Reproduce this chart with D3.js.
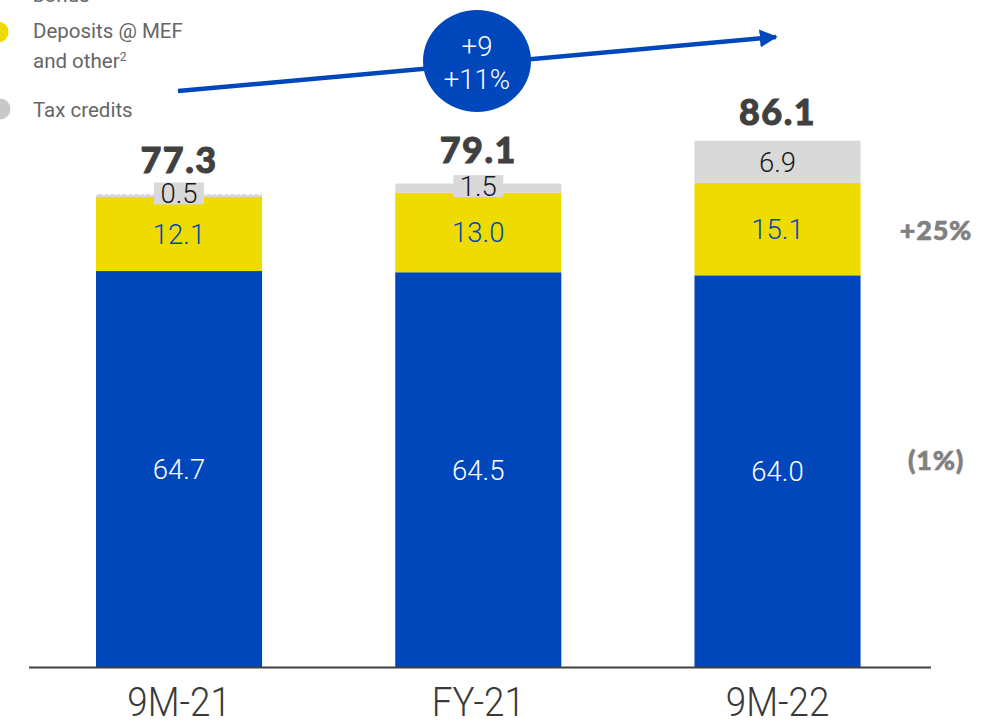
<!DOCTYPE html>
<html>
<head>
<meta charset="utf-8">
<script src="https://cdn.jsdelivr.net/npm/d3@7"></script>
<style>
  html, body { margin: 0; padding: 0; background: #ffffff; }
  svg { display: block; }
</style>
</head>
<body>
<svg id="chart" width="999" height="721"></svg>
<script>
// ---- Data ----
const categories = ["9M-21", "FY-21", "9M-22"];
const bondsValues = [64.7, 64.5, 64.0];
const depositsValues = [12.1, 13.0, 15.1];
const taxCreditValues = [0.5, 1.5, 6.9];
const totalLabels = ["77.3", "79.1", "86.1"];
const seriesNames = ["bonds", "Deposits @ MEF", "Tax credits"];
const changeLabels = ["+25%", "(1%)"];
const growthLabels = ["+9", "+11%"];

// ---- Setup ----
const svg = d3.select("#chart");
const font = "Lato, 'Open Sans', sans-serif";
const lightFont = "Roboto, Lato, sans-serif";
const colBlue = "#0047BB", colYellow = "#EEDC00", colGray = "#D9D9D9";

const x = d3.scaleBand().domain(categories)
  .range([29.4, 927.15]).paddingInner(0.445).paddingOuter(0.2225);
const y = d3.scaleLinear().domain([0, 100]).range([667, 55]);

const rows = categories.map((c, i) => ({
  cat: c, bonds: bondsValues[i], deposits: depositsValues[i], tax: taxCreditValues[i], total: totalLabels[i]
}));
const stack = d3.stack().keys(["bonds", "deposits", "tax"])(rows);
const colors = { bonds: colBlue, deposits: colYellow, tax: colGray };

// bars
const g = svg.append("g");
stack.forEach(layer => {
  g.selectAll(null).data(layer).enter().append("rect")
    .attr("x", d => x(d.data.cat))
    .attr("y", d => y(d[1]))
    .attr("width", x.bandwidth())
    .attr("height", d => y(d[0]) - y(d[1]))
    .attr("fill", colors[layer.key]);
});
// dashed white top edge on tiny first tax segment
g.append("line")
  .attr("x1", x(categories[0])).attr("x2", x(categories[0]) + x.bandwidth())
  .attr("y1", y(bondsValues[0] + depositsValues[0] + taxCreditValues[0]) + 0.5)
  .attr("y2", y(bondsValues[0] + depositsValues[0] + taxCreditValues[0]) + 0.5)
  .attr("stroke", "#ffffff").attr("stroke-width", 1).attr("stroke-dasharray", "3,3");

// axis
svg.append("line").attr("x1", 29).attr("x2", 931).attr("y1", 667.5).attr("y2", 667.5)
  .attr("stroke", "#404040").attr("stroke-width", 2);

const xAxis = d3.axisBottom(x).tickSize(0).tickPadding(0);
const ax = svg.append("g").attr("transform", "translate(0,667)").call(xAxis);
ax.select(".domain").remove();
ax.selectAll("text")
  .attr("y", 0).attr("dy", 0)
  .attr("transform", "translate(0,49) scale(0.92,1)")
  .attr("font-family", lightFont).attr("font-weight", 300)
  .attr("font-size", 40).attr("fill", "#3a3a3a");

// labels
const blueLayer = stack[0], yellowLayer = stack[1], grayLayer = stack[2];
g.selectAll(null).data(blueLayer).enter().append("text")
  .attr("x", d => x(d.data.cat) + x.bandwidth() / 2)
  .attr("y", d => (y(d[0]) + y(d[1])) / 2)
  .attr("dy", "0.36em").attr("text-anchor", "middle")
  .attr("font-family", lightFont).attr("font-weight", 300).attr("font-size", 27.5).attr("fill", "#ffffff")
  .text(d => d.data.bonds.toFixed(1));

g.selectAll(null).data(yellowLayer).enter().append("text")
  .attr("x", d => x(d.data.cat) + x.bandwidth() / 2)
  .attr("y", d => (y(d[0]) + y(d[1])) / 2)
  .attr("dy", "0.36em").attr("text-anchor", "middle")
  .attr("font-family", lightFont).attr("font-weight", 300).attr("font-size", 27.5).attr("fill", colBlue)
  .text(d => d.data.deposits.toFixed(1));

grayLayer.forEach((d, i) => {
  const cx = x(d.data.cat) + x.bandwidth() / 2;
  const h = y(d[0]) - y(d[1]);
  let cy = (y(d[0]) + y(d[1])) / 2;
  if (h < 20) {
    cy -= 2;
    g.append("rect").attr("x", cx - 25).attr("y", cy - 11).attr("width", 50).attr("height", 22)
      .attr("fill", colGray);
  }
  g.append("text").attr("x", cx).attr("y", cy).attr("dy", "0.36em")
    .attr("text-anchor", "middle").attr("font-family", lightFont).attr("font-weight", 300).attr("font-size", 27.5)
    .attr("fill", "#1a1a1a").text(d.data.tax.toFixed(1));
});

// totals
g.selectAll(null).data(grayLayer).enter().append("text")
  .attr("x", d => x(d.data.cat) + x.bandwidth() / 2)
  .attr("y", d => y(d[1]) - (y(d[0]) - y(d[1]) < 20 ? 21 : 16))
  .attr("text-anchor", "middle")
  .attr("font-family", font).attr("font-weight", 900).attr("font-size", 36)
  .attr("fill", "#404040").attr("stroke", "#404040").attr("stroke-width", 0.9)
  .attr("letter-spacing", 1.5)
  .text(d => d.data.total);

// change labels on right
svg.append("text").attr("x", 936).attr("y", (y(grayLayer[2][0]) + y(yellowLayer[2][0])) / 2 + 1)
  .attr("dy", "0.36em").attr("text-anchor", "middle")
  .attr("font-family", font).attr("font-weight", 900).attr("font-size", 27)
  .attr("fill", "#808080").attr("stroke", "#808080").attr("stroke-width", 0.6).attr("letter-spacing", 0.8)
  .text(changeLabels[0]);
svg.append("text").attr("x", 936).attr("y", (y(0) + y(bondsValues[2])) / 2 - 11)
  .attr("dy", "0.36em").attr("text-anchor", "middle")
  .attr("font-family", font).attr("font-weight", 900).attr("font-size", 27)
  .attr("fill", "#808080").attr("stroke", "#808080").attr("stroke-width", 0.6).attr("letter-spacing", 0.8)
  .text(changeLabels[1]);

// arrow
const defs = svg.append("defs");
defs.append("marker").attr("id", "ah").attr("viewBox", "0 0 10 10")
  .attr("refX", 9).attr("refY", 5).attr("markerWidth", 18).attr("markerHeight", 18)
  .attr("markerUnits", "userSpaceOnUse").attr("orient", "auto")
  .append("path").attr("d", "M0,0 L10,5 L0,10 Z").attr("fill", colBlue);
svg.append("line").attr("x1", 178).attr("y1", 91).attr("x2", 776).attr("y2", 37)
  .attr("stroke", colBlue).attr("stroke-width", 4.5).attr("marker-end", "url(#ah)");

svg.append("ellipse").attr("cx", 477).attr("cy", 61).attr("rx", 54).attr("ry", 51).attr("fill", colBlue);
svg.append("text").attr("x", 477).attr("y", 46).attr("dy", "0.36em").attr("text-anchor", "middle")
  .attr("font-family", lightFont).attr("font-weight", 300).attr("font-size", 27.5).attr("fill", "#ffffff").text(growthLabels[0]);
svg.append("text").attr("x", 477).attr("y", 79).attr("dy", "0.36em").attr("text-anchor", "middle")
  .attr("font-family", lightFont).attr("font-weight", 300).attr("font-size", 27.5).attr("fill", "#ffffff").text(growthLabels[1]);

// legend
const leg = svg.append("g");
const legFont = lightFont;
leg.append("circle").attr("cx", -2).attr("cy", -20).attr("r", 10).attr("fill", colBlue);
leg.append("text").attr("x", 33).attr("y", 2).attr("font-family", legFont).attr("font-size", 20.5)
  .attr("fill", "#666666").text(seriesNames[0]);
leg.append("circle").attr("cx", -2).attr("cy", 32).attr("r", 10.5).attr("fill", colYellow);
leg.append("text").attr("x", 33).attr("y", 31).attr("dy", "0.36em").attr("font-family", legFont)
  .attr("font-size", 20.5).attr("fill", "#666666").text(seriesNames[1]);
const t2 = leg.append("text").attr("x", 33).attr("y", 61).attr("dy", "0.36em").attr("font-family", legFont)
  .attr("font-size", 20.5).attr("fill", "#666666");
t2.append("tspan").text("and other");
t2.append("tspan").attr("font-size", 12).attr("dy", "-0.6em").text("2");
leg.append("circle").attr("cx", 0).attr("cy", 109).attr("r", 10.5).attr("fill", "#C8C8C8");
leg.append("text").attr("x", 33).attr("y", 110).attr("dy", "0.36em").attr("font-family", legFont)
  .attr("font-size", 20.5).attr("fill", "#666666").text(seriesNames[2]);
</script>
</body>
</html>
